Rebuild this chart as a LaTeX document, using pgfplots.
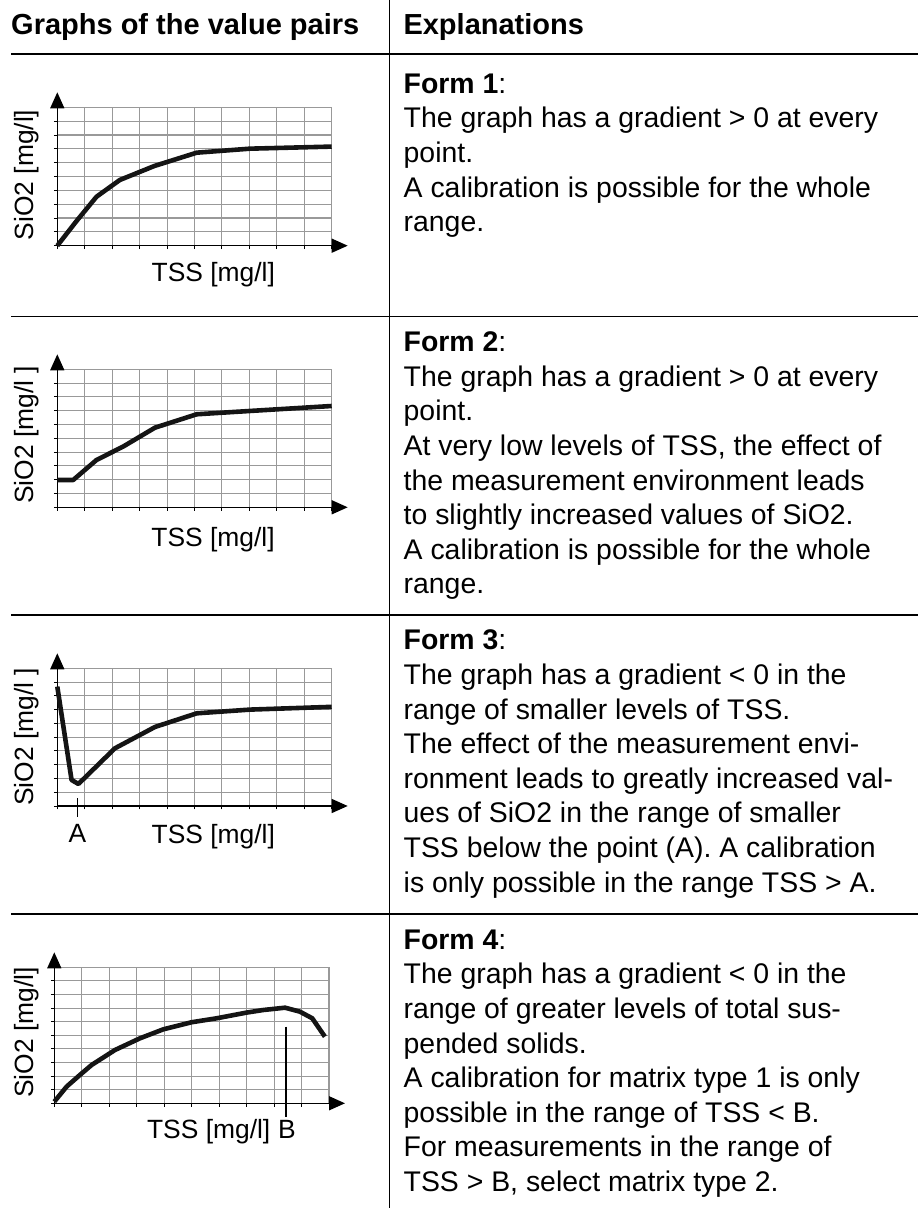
\documentclass[border=0pt]{standalone}
\usepackage{fontspec}
\setmainfont{Liberation Sans}
\usepackage{pgfplots}
\pgfplotsset{compat=1.18}
\usetikzlibrary{arrows.meta}

\newcommand{\bodyfont}{\fontsize{28.4pt}{34.6pt}\selectfont}
\newcommand{\labfont}{\fontsize{26.4pt}{30pt}\selectfont}
\newcommand{\headfont}{\fontsize{29pt}{34pt}\selectfont\bfseries}

\pgfplotsset{
 formax/.style={
  scale only axis, width=274.4pt,
  xmin=0, xmax=10, ymin=0, ymax=10,
  xtick={0,...,10}, ytick={0,...,10},
  xticklabels={}, yticklabels={},
  grid=major, grid style={color=black!40, line width=1.1pt},
  axis x line=bottom, axis y line=left,
  axis line style={line width=1.4pt, -{Triangle[length=16pt,width=14pt]}},
  x axis line style={shorten >=-16pt},
  y axis line style={shorten >=-15pt},
  tick style={black, line width=0.9pt}, tick align=outside, major tick length=3.5pt,
  clip=false, anchor=south west,
 },
 curve/.style={black!92, line width=4.6pt, line join=round, mark=none},
 marker/.style={black, line width=1.5pt, mark=none},
}

\tikzset{
 tl/.style={anchor=base west, inner sep=0pt, font=\bodyfont},
 hl/.style={anchor=base west, inner sep=0pt, font=\headfont},
 xl/.style={anchor=base, inner sep=0pt, font=\labfont},
 yl/.style={anchor=base, inner sep=0pt, font=\labfont, rotate=90},
}

\begin{document}
\begin{tikzpicture}[x=1pt, y=1pt]
\useasboundingbox (0,0) rectangle (918,1208);

% table rules
\draw[line width=1.4pt] (389.5,0) -- (389.5,1208);
\draw[line width=1.4pt] (11,1154) -- (918,1154);
\draw[line width=1.4pt] (11,891.5) -- (918,891.5);
\draw[line width=1.4pt] (11,593) -- (918,593);
\draw[line width=1.4pt] (11,294) -- (918,294);

% header
\node[hl] at (11,1173) {Graphs of the value pairs};
\node[hl] at (403.3,1173) {Explanations};

% ---------- Graph 1 ----------
\begin{axis}[formax, at={(57.3pt,962.3pt)}, height=138.4pt]
\addplot[curve] coordinates {(0,0) (0.7,1.78) (1.43,3.54) (2.28,4.75) (3.54,5.76) (5.08,6.72) (7.02,7.01) (10,7.16)};
\end{axis}
\node[yl] at (33,1033) {SiO2 [mg/l]};
\node[xl] at (213.3,926) {TSS [mg/l]};

% ---------- Graph 2 ----------
\begin{axis}[formax, at={(57.3pt,700.7pt)}, height=138pt]
\addplot[curve] coordinates {(0,1.98) (0.58,1.98) (1.43,3.43) (2.4,4.4) (3.56,5.77) (5.08,6.74) (7.02,6.98) (10,7.34)};
\end{axis}
\node[yl] at (33,773) {SiO2 [mg/l ]};
\node[xl] at (213,661.3) {TSS [mg/l]};

% ---------- Graph 3 ----------
\begin{axis}[formax, at={(57.3pt,402pt)}, height=137.7pt]
\addplot[curve] coordinates {(0,8.67) (0.52,1.89) (0.77,1.6) (2.1,4.19) (3.56,5.74) (5.08,6.73) (7.02,7.0) (10,7.2)};
\addplot[marker] coordinates {(0.73,0.56) (0.73,-0.78)};
\end{axis}
\node[yl] at (33,471.3) {SiO2 [mg/l ]};
\node[xl] at (213.3,364.7) {TSS [mg/l]};
\node[xl] at (77.5,365) {A};

% ---------- Graph 4 ----------
\begin{axis}[formax, at={(54.3pt,104.7pt)}, width=274.7pt, height=136pt]
\addplot[curve] coordinates {(0,0.12) (0.45,1.23) (0.93,2.08) (1.36,2.82) (2.21,3.92) (3.12,4.78) (3.97,5.44) (5.0,5.96) (5.91,6.25) (7.0,6.67) (7.61,6.86) (8.40,7.03) (8.94,6.74) (9.39,6.25) (9.85,4.90)};
\addplot[marker] coordinates {(8.43,5.63) (8.43,-0.99)};
\end{axis}
\node[yl] at (33,175.5) {SiO2 [mg/l]};
\node[xl] at (208.7,69) {TSS [mg/l]};
\node[xl] at (287,69) {B};

% ---------- Explanations ----------
\node[tl] at (403.5,1114.7) {\textbf{Form 1}:};
\node[tl] at (403.5,1080.1) {The graph has a gradient > 0 at every};
\node[tl] at (403.5,1045.5) {point.};
\node[tl] at (403.5,1010.9) {A calibration is possible for the whole};
\node[tl] at (403.5,976.3) {range.};

\node[tl] at (403.5,856.3) {\textbf{Form 2}:};
\node[tl] at (403.5,821.7) {The graph has a gradient > 0 at every};
\node[tl] at (403.5,787.1) {point.};
\node[tl] at (403.5,752.5) {At very low levels of TSS, the effect of};
\node[tl] at (403.5,717.9) {the measurement environment leads};
\node[tl] at (403.5,683.3) {to slightly increased values of SiO2.};
\node[tl] at (403.5,648.7) {A calibration is possible for the whole};
\node[tl] at (403.5,614.1) {range.};

\node[tl] at (403.5,558) {\textbf{Form 3}:};
\node[tl] at (403.5,523.4) {The graph has a gradient < 0 in the};
\node[tl] at (403.5,488.8) {range of smaller levels of TSS.};
\node[tl] at (403.5,454.2) {The effect of the measurement envi-};
\node[tl] at (403.5,419.6) {ronment leads to greatly increased val-};
\node[tl] at (403.5,385) {ues of SiO2 in the range of smaller};
\node[tl] at (403.5,350.4) {TSS below the point (A). A calibration};
\node[tl] at (403.5,315.8) {is only possible in the range TSS > A.};

\node[tl] at (403.5,258.7) {\textbf{Form 4}:};
\node[tl] at (403.5,224.1) {The graph has a gradient < 0 in the};
\node[tl] at (403.5,189.5) {range of greater levels of total sus-};
\node[tl] at (403.5,154.9) {pended solids.};
\node[tl] at (403.5,120.3) {A calibration for matrix type 1 is only};
\node[tl] at (403.5,85.7) {possible in the range of TSS < B.};
\node[tl] at (403.5,51.1) {For measurements in the range of};
\node[tl] at (403.5,16.5) {TSS > B, select matrix type 2.};
\end{tikzpicture}
\end{document}
